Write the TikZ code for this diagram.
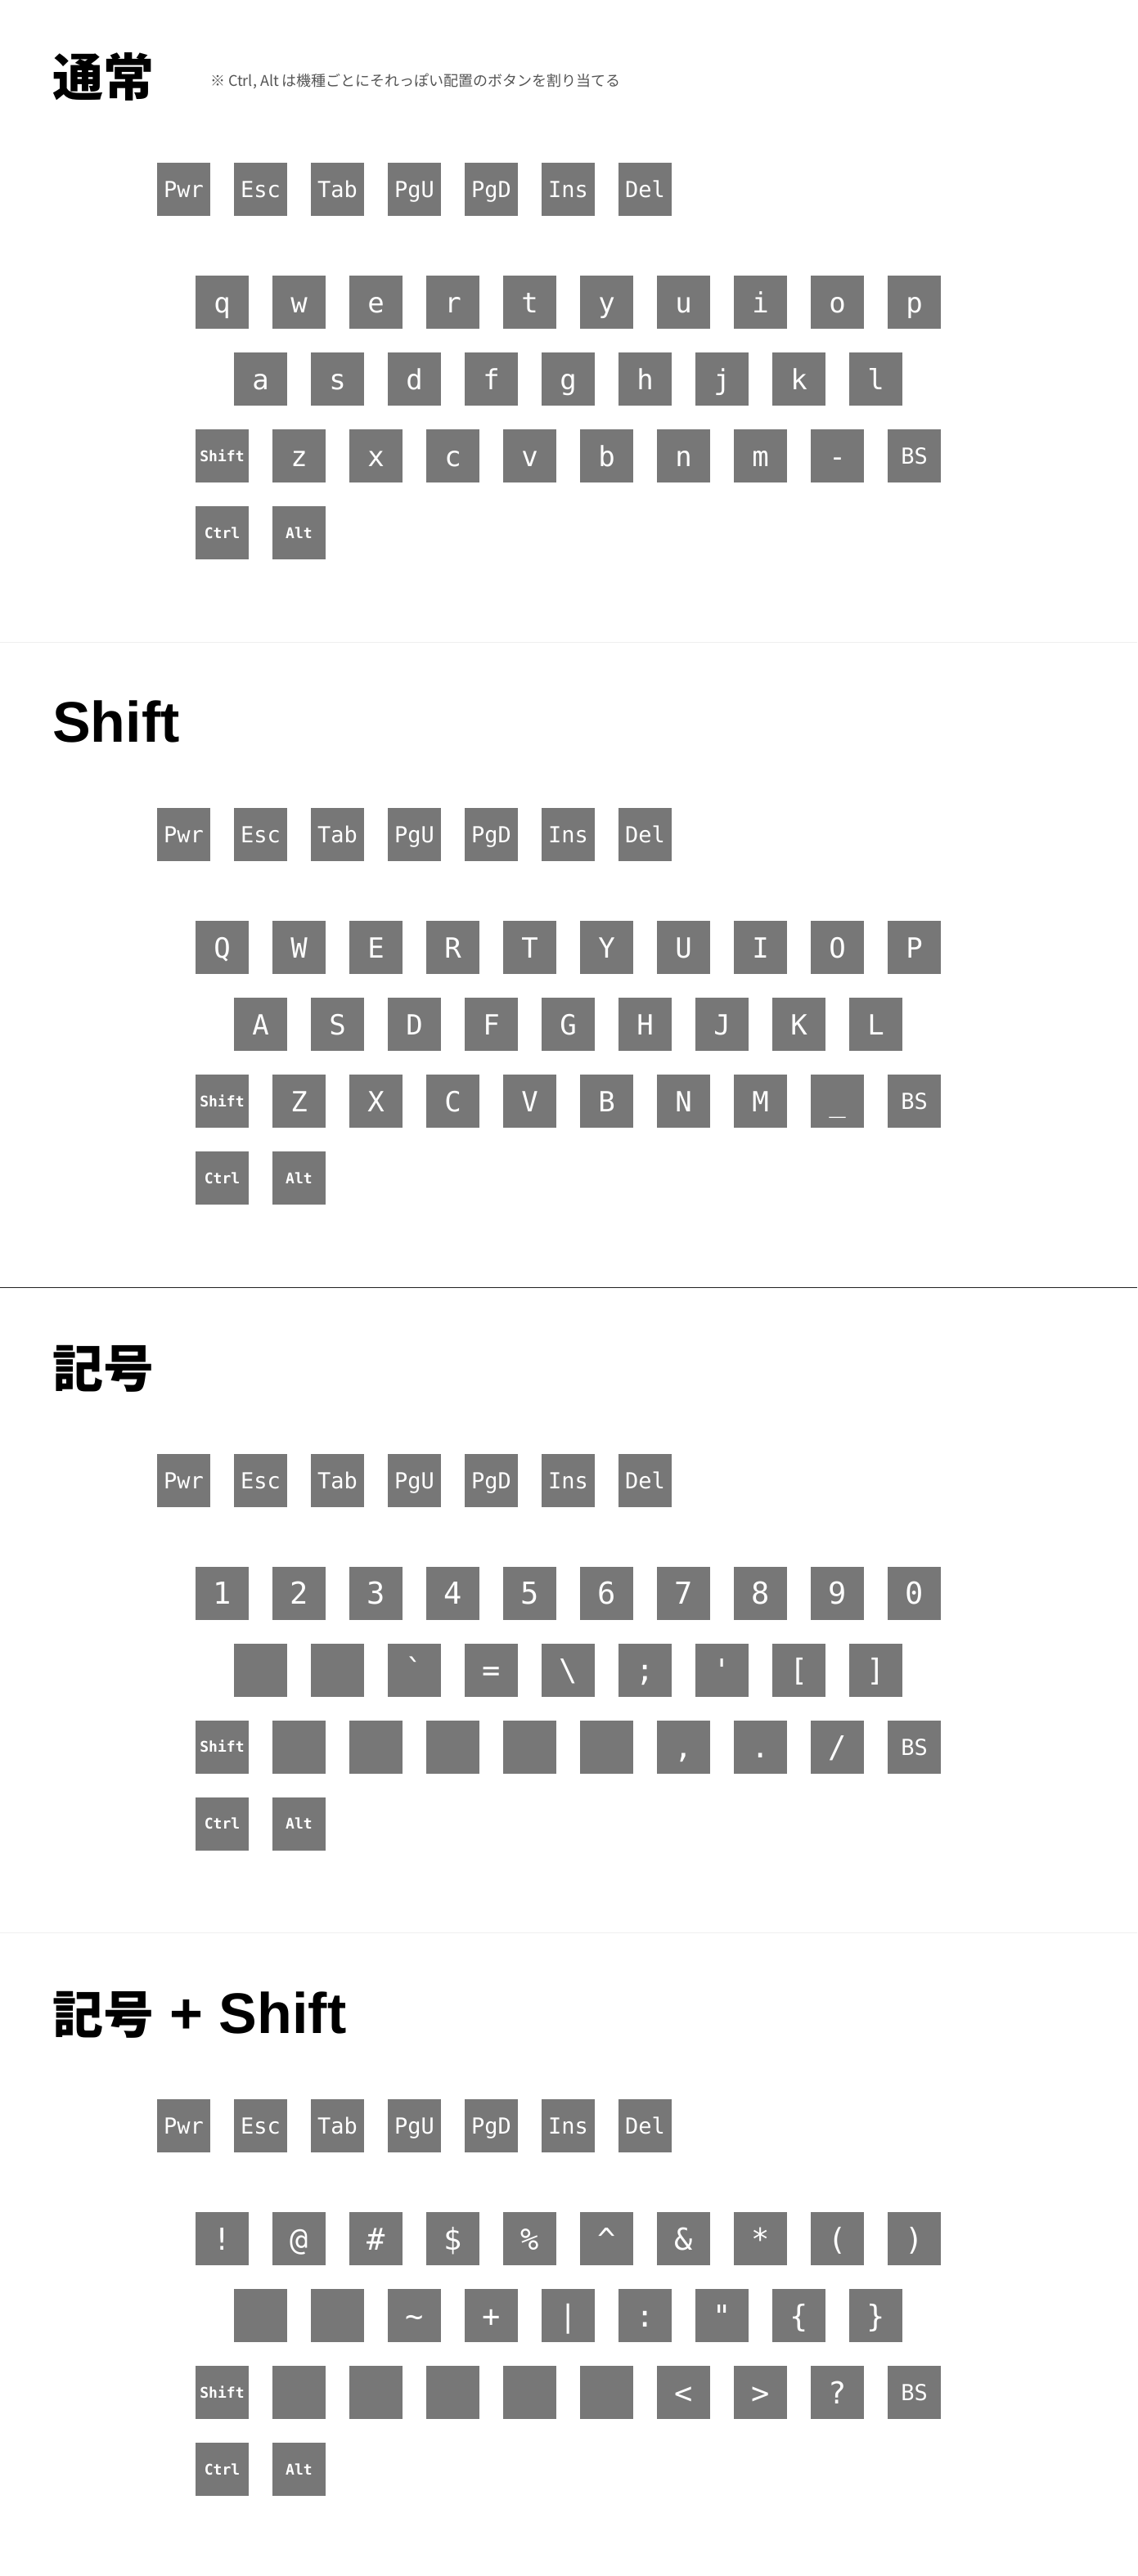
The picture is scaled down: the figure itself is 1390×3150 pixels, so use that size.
\documentclass[tikz,border=0pt]{standalone}
\usepackage{fontspec}
\setmainfont{Liberation Sans}
\newfontfamily\jpfont{Noto Sans CJK JP}
\newfontfamily\keyfont{DejaVu Sans Mono}

\definecolor{keygray}{HTML}{777777}
\definecolor{notegray}{HTML}{555555}
\definecolor{faintline}{HTML}{EFEFEF}
\definecolor{darkline}{HTML}{222222}

\newcommand\jptitle[1]{{\jpfont\bfseries\fontsize{62}{62}\selectfont #1}}

\begin{document}
\begin{tikzpicture}[x=1pt, y=-1pt,
        key/.style={fill=keygray, text=white, inner sep=0pt, minimum width=65pt, minimum height=65pt,
            text height=25pt, text depth=0pt, font=\keyfont\fontsize{34}{34}\selectfont},
        symkey/.style={key, text height=27pt, font=\keyfont\fontsize{37}{37}\selectfont},
        fkey/.style={key, text height=20pt, font=\keyfont\fontsize{27}{27}\selectfont},
        mkey/.style={key, text height=13pt, font=\keyfont\bfseries\fontsize{18}{18}\selectfont},
        title/.style={anchor=base west, inner sep=0pt, font=\bfseries\fontsize{70}{70}\selectfont},
        note/.style={anchor=base west, inner sep=0pt, text=notegray, font=\jpfont\fontsize{18}{18}\selectfont}]
    \useasboundingbox[fill=white] (0,0) rectangle (1390,3150);

    % section lines
    \draw[faintline, line width=1pt] (0,785) -- (1390,785);
    \draw[darkline, line width=1.5pt] (0,1574.3) -- (1390,1574.3);
    \draw[faintline, line width=1pt] (0,2363.7) -- (1390,2363.7);

    % titles
    \node[title] (t1) at (64,118) {\jptitle{通常}};
    \node[note] (note) at (257,106) {※ Ctrl, Alt は機種ごとにそれっぽい配置のボタンを割り当てる};
    \node[title] (t2) at (64,907.33) {Shift};
    \node[title] (t3) at (64,1696.67) {\jptitle{記号}};
    \node[title] (t4) at (64,2486) {\jptitle{記号} + Shift};

    % keys that every layer has
    \foreach \s/\dy in {1/0,2/789.33,3/1578.67,4/2368}{
        \foreach \k [count=\i from 0] in {Pwr,Esc,Tab,PgU,PgD,Ins,Del}
            \node[fkey] (s\s-f\i) at ({224.5+94*\i},{231.5+\dy}) {\k};
        \node[mkey] (s\s-shift) at (271.5,{557.5+\dy}) {Shift};
        \node[fkey] (s\s-bs) at (1117.5,{557.5+\dy}) {BS};
        \node[mkey] (s\s-ctrl) at (271.5,{651.5+\dy}) {Ctrl};
        \node[mkey] (s\s-alt) at (365.5,{651.5+\dy}) {Alt};
    }

    % 通常
    \foreach \k [count=\i from 0] in {q,w,e,r,t,y,u,i,o,p}
        \node[key] (s1-a\i) at ({271.5+94*\i},369.5) {\k};
    \foreach \k [count=\i from 0] in {a,s,d,f,g,h,j,k,l}
        \node[key] (s1-b\i) at ({318.5+94*\i},463.5) {\k};
    \foreach \k [count=\i from 1] in {z,x,c,v,b,n,m,-}
        \node[key] (s1-c\i) at ({271.5+94*\i},557.5) {\k};

    % Shift
    \foreach \k [count=\i from 0] in {Q,W,E,R,T,Y,U,I,O,P}
        \node[key] (s2-a\i) at ({271.5+94*\i},1158.83) {\k};
    \foreach \k [count=\i from 0] in {A,S,D,F,G,H,J,K,L}
        \node[key] (s2-b\i) at ({318.5+94*\i},1252.83) {\k};
    \foreach \k [count=\i from 1] in {Z,X,C,V,B,N,M,\_}
        \node[key] (s2-c\i) at ({271.5+94*\i},1346.83) {\k};

    % 記号
    \foreach \k [count=\i from 0] in {1,2,3,4,5,6,7,8,9,0}
        \node[symkey] (s3-a\i) at ({271.5+94*\i},1948.17) {\k};
    \foreach \k [count=\i from 0] in {{},{},\symbol{96},=,\textbackslash,;,\symbol{39},{[},{]}}
        \node[symkey] (s3-b\i) at ({318.5+94*\i},2042.17) {\k};
    \foreach \k [count=\i from 1] in {{},{},{},{},{},{,},.,{/}}
        \node[symkey] (s3-c\i) at ({271.5+94*\i},2136.17) {\k};

    % 記号 + Shift
    \foreach \k [count=\i from 0] in {!,@,\#,\$,\%,\textasciicircum,\&,*,{(},{)}}
        \node[symkey] (s4-a\i) at ({271.5+94*\i},2737.5) {\k};
    \foreach \k [count=\i from 0] in {{},{},\textasciitilde,+,|,:,\symbol{34},\{,\}}
        \node[symkey] (s4-b\i) at ({318.5+94*\i},2831.5) {\k};
    \foreach \k [count=\i from 1] in {{},{},{},{},{},<,>,?}
        \node[symkey] (s4-c\i) at ({271.5+94*\i},2925.5) {\k};
\end{tikzpicture}
\end{document}
